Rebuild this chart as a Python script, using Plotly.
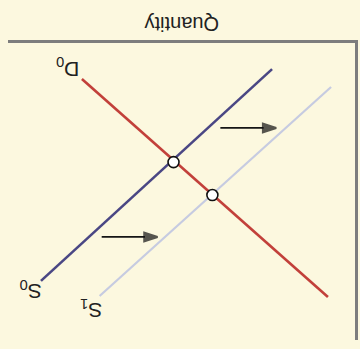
import plotly.graph_objects as go

# Data (quantity, price) in chart units; the picture is shown rotated 180 degrees
s0_q = [2.39, 9.05]
s0_p = [0.88, 8.01]
d0_q = [7.87, 0.78]
d0_p = [1.21, 8.55]
s1_q = [0.69, 7.36]
s1_p = [1.48, 8.52]
eq_q = [5.23, 4.11]
eq_p = [4.01, 5.12]
arrow_tail_q = [7.30, 3.88]
arrow_head_q = [5.69, 2.27]
arrow_p = [6.53, 2.86]
labels = ["D<sub>0</sub>", "S<sub>0</sub>", "S<sub>1</sub>"]
label_q = [8.28, 9.34, 7.59]
label_p = [0.84, 8.32, 8.96]
axis_title = "Quantity"

BG = "#fcf8df"
FONT = "Liberation Sans, Arial, sans-serif"

fig = go.Figure()
fig.add_trace(go.Scatter(x=s1_q, y=s1_p, mode="lines",
                         line=dict(color="#c6cbe1", width=2.2), hoverinfo="skip"))
fig.add_trace(go.Scatter(x=s0_q, y=s0_p, mode="lines",
                         line=dict(color="#4a4784", width=2.6), hoverinfo="skip"))
fig.add_trace(go.Scatter(x=d0_q, y=d0_p, mode="lines",
                         line=dict(color="#c2403a", width=2.6), hoverinfo="skip"))
fig.add_trace(go.Scatter(x=eq_q, y=eq_p, mode="markers",
                         marker=dict(size=11, color="white",
                                     line=dict(color="#111111", width=1.6)),
                         hoverinfo="skip"))

for tq, hq, p in zip(arrow_tail_q, arrow_head_q, arrow_p):
    fig.add_trace(go.Scatter(x=[tq, hq], y=[p, p], mode="lines+markers",
                             line=dict(color="#151515", width=1.8),
                             marker=dict(symbol="arrow", angleref="previous",
                                         size=[0, 14], color="#111111",
                                         line=dict(width=2, color="#111111")),
                             hoverinfo="skip"))

for t, q, p in zip(labels, label_q, label_p):
    fig.add_annotation(x=q, y=p, xref="x", yref="y", text=t, showarrow=False,
                       textangle=180, font=dict(family=FONT, size=21, color="#222222"))

fig.add_annotation(x=0.503, y=1.11, xref="paper", yref="paper", text=axis_title,
                   showarrow=False, textangle=180,
                   font=dict(family=FONT, size=20, color="#222222"))

fig.update_layout(
    width=360, height=349, autosize=False,
    margin=dict(l=8, r=5, t=43, b=9),
    paper_bgcolor=BG, plot_bgcolor=BG,
    showlegend=False,
    xaxis=dict(range=[10, 0], side="top", showline=True, linecolor="#7d7d7d",
               linewidth=2.5, showgrid=False, zeroline=False,
               showticklabels=False, ticks=""),
    yaxis=dict(range=[10, 0], side="right", showline=True, linecolor="#7d7d7d",
               linewidth=2.5, showgrid=False, zeroline=False, mirror=False,
               showticklabels=False, ticks=""),
)

post = ("document.body.style.margin='0';"
        "document.body.style.background='%s';"
        "document.documentElement.style.background='%s';"
        "document.body.style.overflow='hidden';" % (BG, BG))
fig.write_html("out.html", post_script=post, config={"displayModeBar": False})
